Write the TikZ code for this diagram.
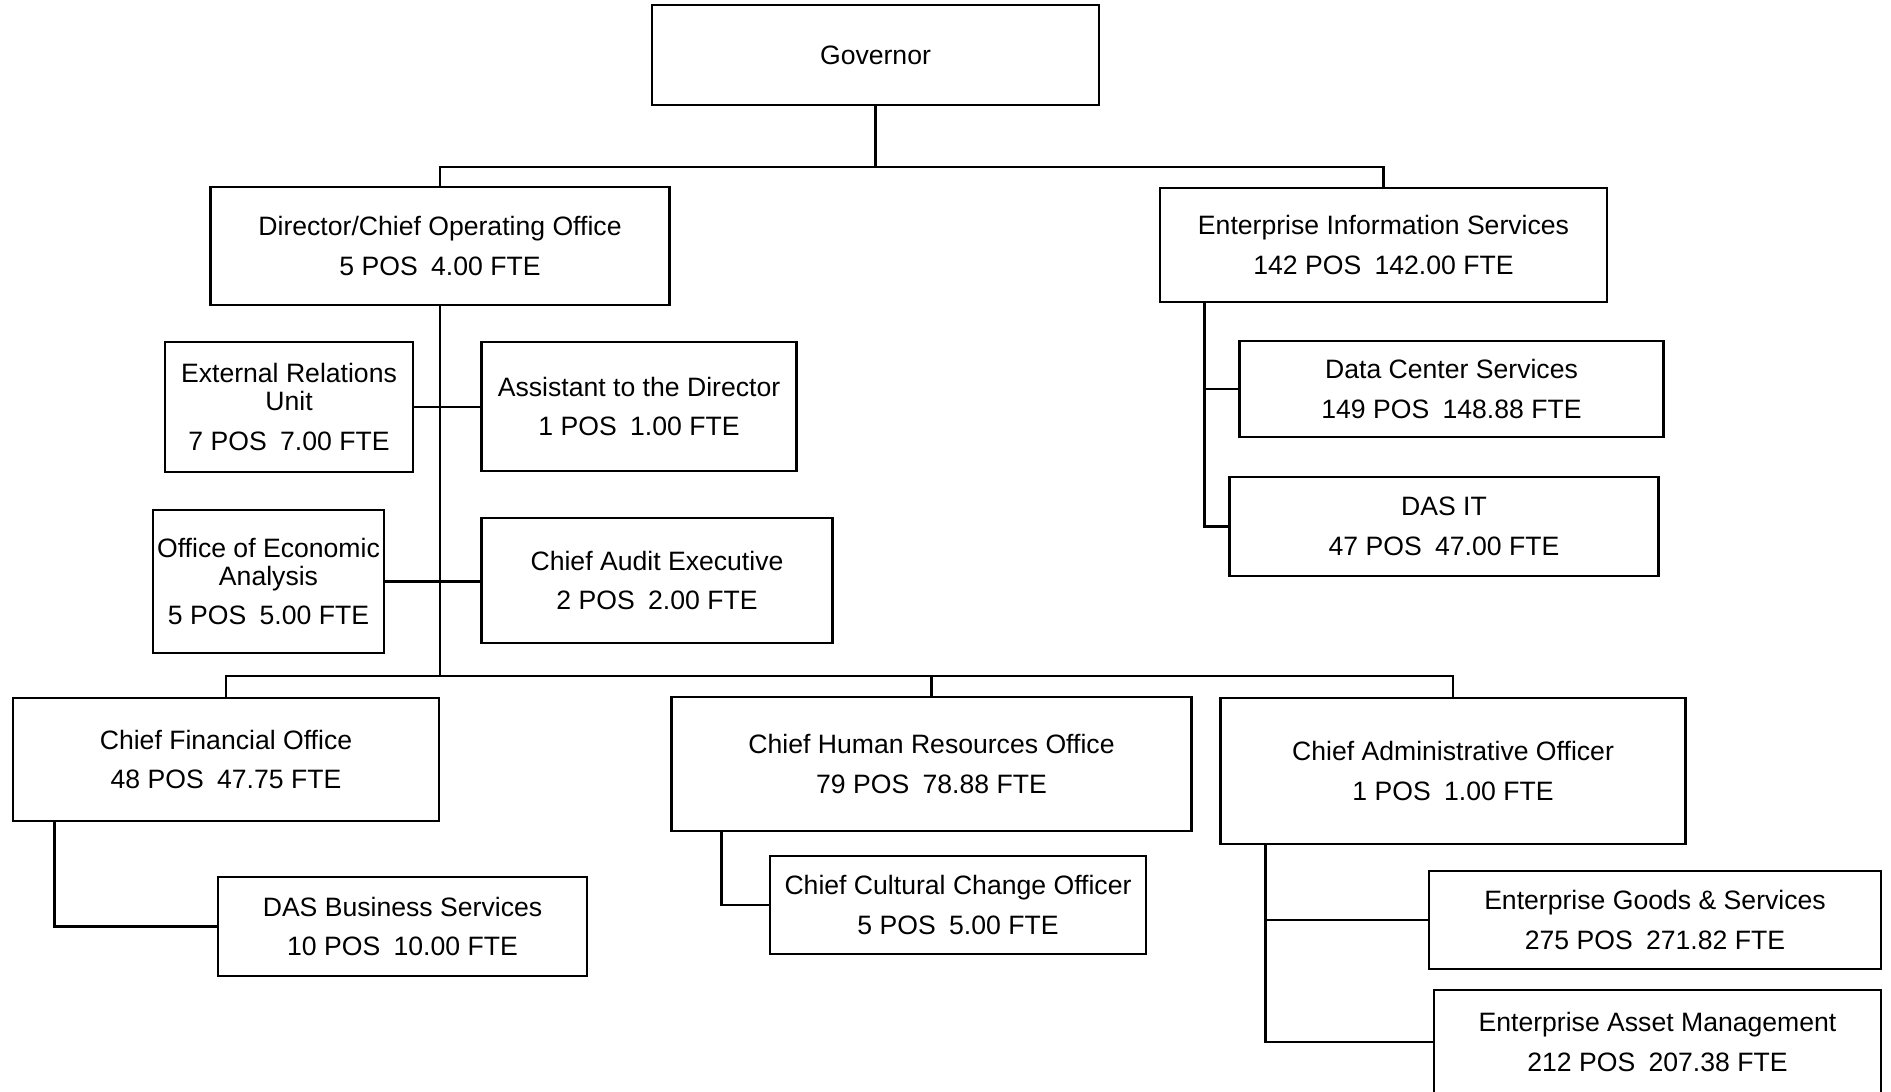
\documentclass[tikz,border=0pt]{standalone}
\usepackage{fontspec}
\setmainfont{Liberation Sans}
\newcommand{\plazas}[2]{#1 POS\hspace{0.5em}#2 FTE}
\tikzset{
  unidad/.style={draw=black, line width=1.4pt, align=center, inner sep=0pt,
    font=\fontsize{13.3pt}{14pt}\selectfont},
  caja/.style 2 args={minimum width=#1*0.5pt, minimum height=#2*0.5pt},
  enlace/.style={draw=black, line width=1.4pt}
}

\begin{document}
\begin{tikzpicture}[x=0.5pt, y=-0.5pt]
        \useasboundingbox (0,0) rectangle (1891,1092);
        % top levels
        \node[unidad, caja={447}{100}] (gob) at (875.5,55) {Governor};
        \node[unidad, caja={458.5}{118}] (dir) at (440,246) {Director/Chief Operating Office\\[5.8pt]\plazas{5}{4.00}};
        \node[unidad, caja={447}{114}] (eis) at (1383.5,245) {Enterprise Information Services\\[5.8pt]\plazas{142}{142.00}};
        % staff of the director
        \node[unidad, caja={248}{130}] (eru) at (289,407) {External Relations\\Unit\\[5.8pt]\plazas{7}{7.00}};
        \node[unidad, caja={314.5}{129}] (asis) at (639,406.5) {Assistant to the Director\\[5.8pt]\plazas{1}{1.00}};
        \node[unidad, caja={231}{143}] (oea) at (268.5,581.5) {Office of Economic\\Analysis\\[5.8pt]\plazas{5}{5.00}};
        \node[unidad, caja={350.5}{125}] (cae) at (657,580.5) {Chief Audit Executive\\[5.8pt]\plazas{2}{2.00}};
        % chiefs
        \node[unidad, caja={426}{123}] (cfo) at (226,759.5) {Chief Financial Office\\[5.8pt]\plazas{48}{47.75}};
        \node[unidad, caja={520}{134}] (chro) at (931.5,764) {Chief Human Resources Office\\[5.8pt]\plazas{79}{78.88}};
        \node[unidad, caja={465.5}{146}] (cao) at (1453,771) {Chief Administrative Officer\\[5.8pt]\plazas{1}{1.00}};
        % lower units
        \node[unidad, caja={369}{99}] (dasbs) at (402.5,926.5) {DAS Business Services\\[5.8pt]\plazas{10}{10.00}};
        \node[unidad, caja={376}{98}] (ccco) at (958,905) {Chief Cultural Change Officer\\[5.8pt]\plazas{5}{5.00}};
        \node[unidad, caja={452}{98}] (egs) at (1655,920) {Enterprise Goods \& Services\\[5.8pt]\plazas{275}{271.82}};
        \node[unidad, caja={447}{104}] (eam) at (1657.5,1042) {Enterprise Asset Management\\[5.8pt]\plazas{212}{207.38}};
        \node[unidad, caja={424}{96}] (dcs) at (1451.5,389) {Data Center Services\\[5.8pt]\plazas{149}{148.88}};
        \node[unidad, caja={429.5}{99}] (dasit) at (1444,526.5) {DAS IT\\[5.8pt]\plazas{47}{47.00}};

        \coordinate (barra) at (875.5,167);
        \coordinate (bus) at (440,676);
        \coordinate (tcfo) at ([xshift=21.5pt]cfo.south west);
        \coordinate (tchro) at ([xshift=25.7pt]chro.south west);
        \coordinate (tcao) at ([xshift=23.25pt]cao.south west);
        \coordinate (teis) at ([xshift=23pt]eis.south west);

        \draw[enlace] (gob.south) -- (barra);
        \draw[enlace] (dir.north) |- (barra) -| (eis.north);
        \draw[enlace] (dir.south) -- (bus);
        \draw[enlace] (eru.east) -- (eru.east -| asis.west);
        \draw[enlace] (oea.east) -- (oea.east -| cae.west);
        \draw[enlace] (cfo.north) |- (bus) -| (cao.north);
        \draw[enlace] (chro.north) -- (chro.north |- bus);
        \draw[enlace] (tcfo) |- (dasbs.west);
        \draw[enlace] (tchro) |- (ccco.west);
        \draw[enlace] (tcao) |- (eam.west);
        \draw[enlace] (egs.west) -- (egs.west -| tcao);
        \draw[enlace] (teis) |- (dasit.west);
        \draw[enlace] (dcs.west) -- (dcs.west -| teis);
      \end{tikzpicture}
\end{document}
